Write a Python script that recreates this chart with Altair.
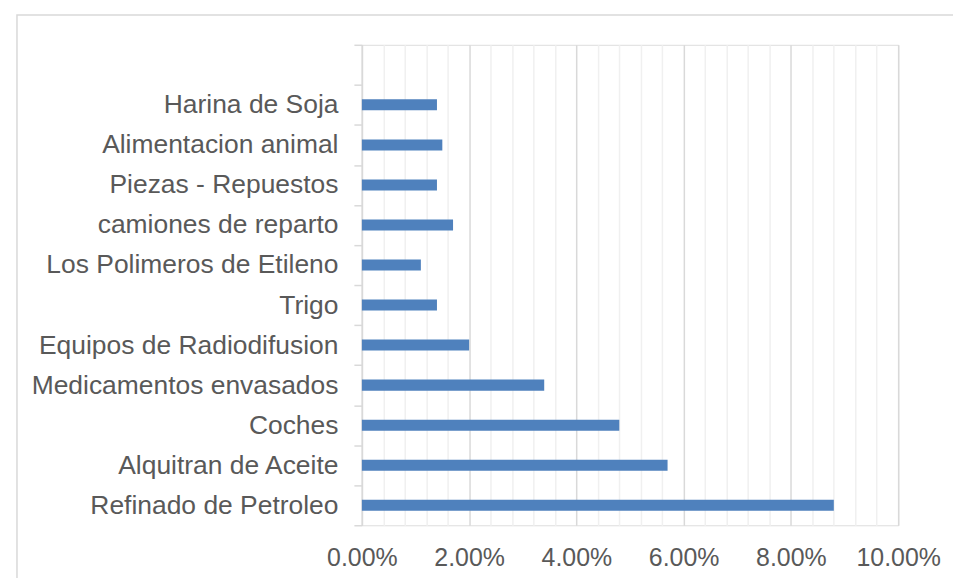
import altair as alt
import pandas as pd

categories = [
    "Refinado de Petroleo",
    "Alquitran de Aceite",
    "Coches",
    "Medicamentos envasados",
    "Equipos de Radiodifusion",
    "Trigo",
    "Los Polimeros de Etileno",
    "camiones de reparto",
    "Piezas - Repuestos",
    "Alimentacion animal",
    "Harina de Soja ",
]
values = [0.088, 0.057, 0.048, 0.034, 0.020, 0.014, 0.011, 0.017, 0.014, 0.015, 0.014]

df = pd.DataFrame({"categoria": categories, "valor": values})

# top-to-bottom order, with the empty slot above the first bar
y_domain = [" "] + categories[::-1]
grid_values = [round(i * 0.004, 3) for i in range(26)]

FONT = "Liberation Sans"
LABEL = "#595959"
LINE = "#d9d9d9"

bars = alt.Chart(df).mark_bar(color="#4f81bd", height=alt.RelativeBandSize(0.275)).encode(
    x=alt.X(
        "valor:Q",
        scale=alt.Scale(domain=[0, 0.10], nice=False, zero=True),
        axis=alt.Axis(
            title=None,
            values=grid_values,
            labelExpr="round(datum.value*500) % 10 == 0 ? format(datum.value, '.2%') : ''",
            grid=True,
            gridColor={
                "condition": {"test": "round(datum.value*500) % 10 == 0", "value": LINE},
                "value": "#f0f0f0",
            },
            gridWidth=1.5,
            domain=False,
            ticks=False,
            tickSize=0,
            labelPadding=20,
            labelFont=FONT,
            labelFontSize=25,
            labelColor=LABEL,
            labelFlush=False,
            labelOverlap=False,
        ),
    ),
    y=alt.Y(
        "categoria:N",
        sort=y_domain,
        scale=alt.Scale(domain=y_domain, paddingInner=0, paddingOuter=0),
        axis=alt.Axis(
            title=None,
            domainColor=LINE,
            domainWidth=1.5,
            tickColor=LINE,
            tickWidth=1.5,
            tickSize=8,
            tickBand="extent",
            labelPadding=16,
            labelFont=FONT,
            labelFontSize=26.5,
            labelColor=LABEL,
            labelLimit=400,
            grid=False,
        ),
    ),
)

frame = alt.Chart(pd.DataFrame({"k": [0]})).mark_rect(
    fill=None, stroke=LINE, strokeWidth=1.5
).encode(
    x=alt.value(-346), x2=alt.value(700), y=alt.value(-30), y2=alt.value(700)
)

chart = alt.layer(frame, bars).properties(
    width=538,
    height=482,
    autosize=alt.AutoSizeParams(type="none"),
    padding={"left": 355, "top": 36, "right": 55, "bottom": 52},
).configure_view(stroke=None).configure(background="white")

chart.save("out.html", embed_options={"renderer": "svg", "actions": False})
